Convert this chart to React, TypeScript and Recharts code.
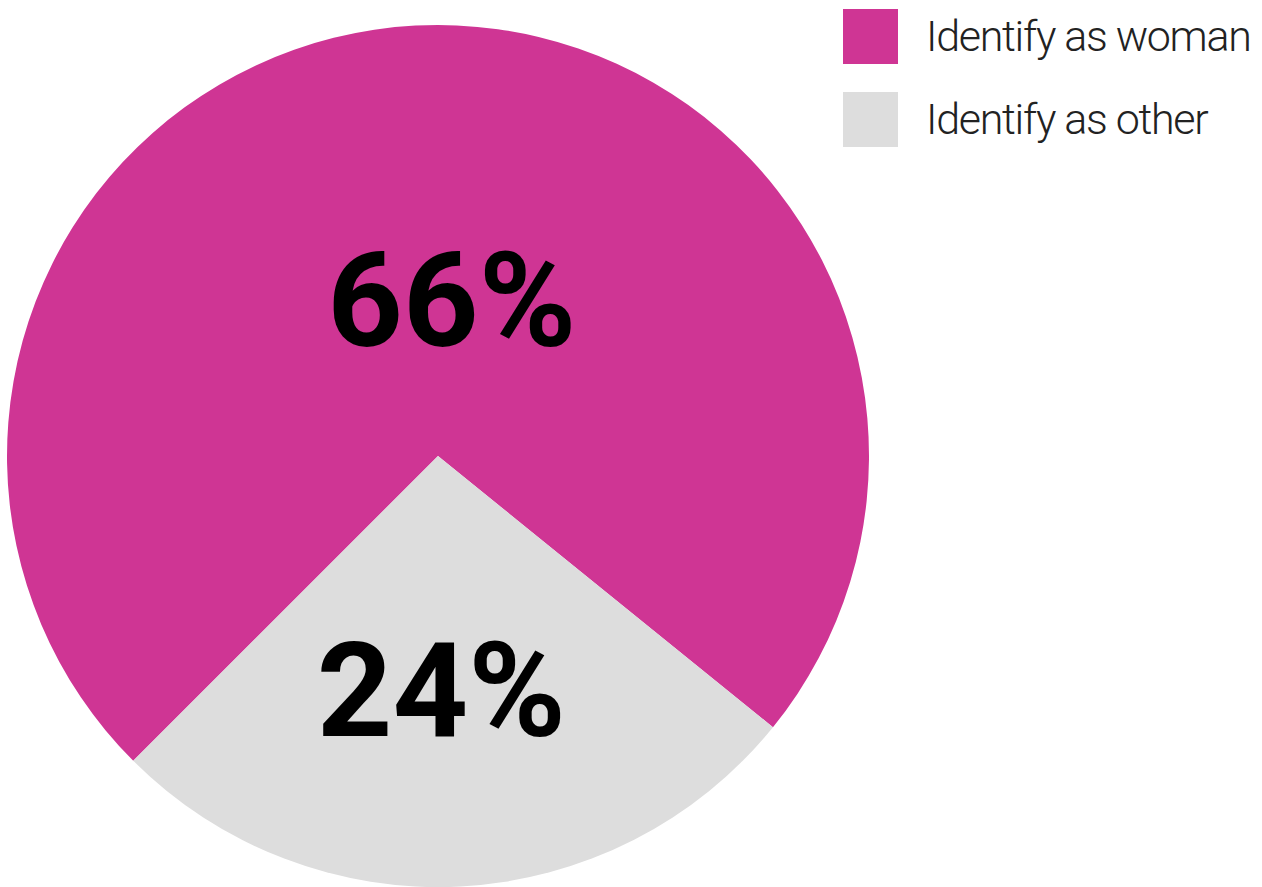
import React from 'react';
import { PieChart, Pie, Cell, Legend } from 'recharts';

const categories = ['Identify as woman', 'Identify as other'];
const values = [66, 24];
const labels = ['66%', '24%'];
const colors = ['#CF3594', '#DDDDDD'];

const data = categories.map((name, i) => ({ name, value: values[i], label: labels[i] }));

const labelRadius = [0.36, 0.545];
const labelDx = [22, -9];

const RADIAN = Math.PI / 180;

const renderLabel = (props: any) => {
  const { cx, cy, midAngle, outerRadius, index } = props;
  const r = outerRadius * labelRadius[index];
  const x = cx + r * Math.cos(-midAngle * RADIAN) + labelDx[index];
  const y = cy + r * Math.sin(-midAngle * RADIAN);
  return (
    <text
      x={x}
      y={y}
      textAnchor="middle"
      dominantBaseline="central"
      fill="#000"
      style={{ fontFamily: 'Roboto', fontWeight: 700, fontSize: 132 }}
    >
      {labels[index]}
    </text>
  );
};

const renderLegend = () => (
  <div style={{ display: 'flex', flexDirection: 'column' }}>
    {categories.map((c, i) => (
      <div key={c} style={{ display: 'flex', alignItems: 'center', height: 55, marginBottom: 28 }}>
        <div style={{ width: 55, height: 55, background: colors[i] }} />
        <span
          style={{
            marginLeft: 28,
            fontFamily: 'Roboto',
            fontWeight: 300,
            fontSize: 43,
            letterSpacing: -1.3,
            color: '#222',
            lineHeight: '55px',
          }}
        >
          {c}
        </span>
      </div>
    ))}
  </div>
);

export default function App() {
  return (
    <div style={{ position: 'absolute', left: 0, top: 0, width: 1262, height: 887, background: '#fff' }}>
      <PieChart width={1262} height={887} margin={{ top: 0, right: 0, bottom: 0, left: 0 }}>
        <Pie
          data={data}
          dataKey="value"
          nameKey="name"
          cx={438}
          cy={456}
          outerRadius={431}
          startAngle={-39}
          endAngle={321}
          stroke="none"
          labelLine={false}
          label={renderLabel}
          isAnimationActive={false}
        >
          {data.map((d, i) => (
            <Cell key={d.name} fill={colors[i]} />
          ))}
        </Pie>
        <Legend
          content={renderLegend}
          wrapperStyle={{ position: 'absolute', left: 843, top: 9, width: 419 }}
        />
      </PieChart>
    </div>
  );
}
